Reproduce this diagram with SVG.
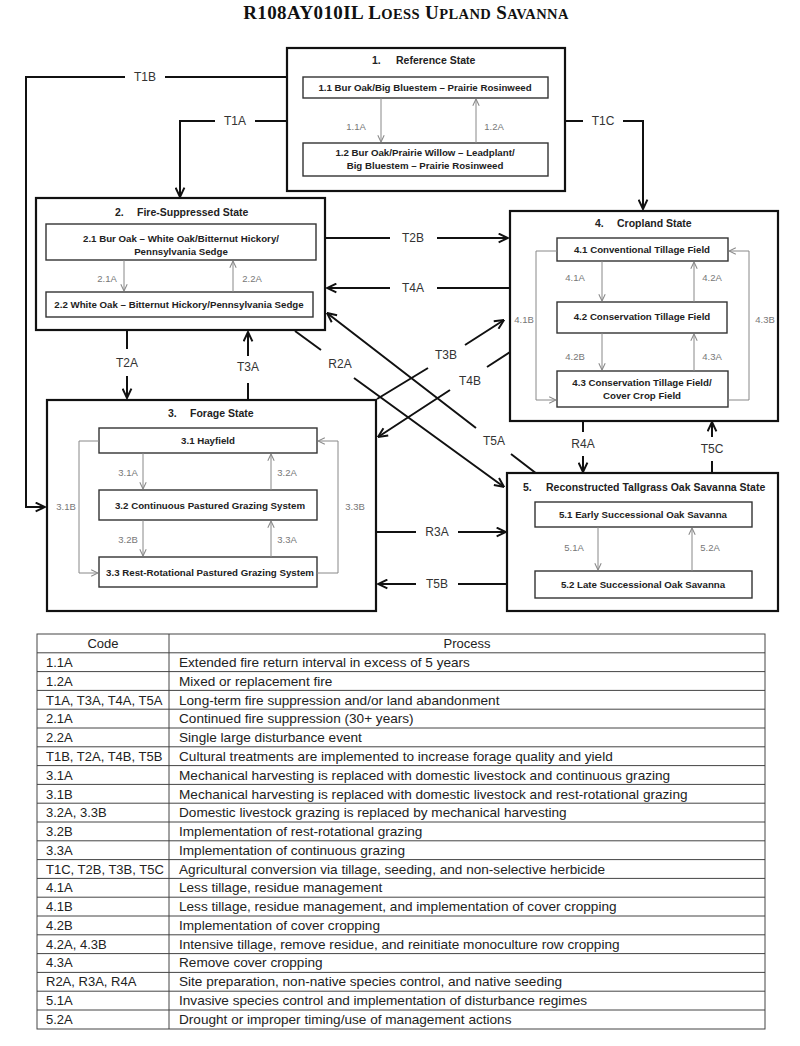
<svg xmlns="http://www.w3.org/2000/svg" width="800" height="1046" viewBox="0 0 800 1046">
<style>
.state{fill:#fff;stroke:#111;stroke-width:2.2}
.phase{fill:#fff;stroke:#333;stroke-width:1.4}
.st{font-family:"Liberation Sans",Arial,sans-serif;font-weight:bold;font-size:10.5px;fill:#222}
.ph{font-family:"Liberation Sans",Arial,sans-serif;font-weight:bold;font-size:9.7px;fill:#222;text-anchor:middle}
.con{fill:none;stroke:#111;stroke-width:2}
.in{fill:none;stroke:#888;stroke-width:1}
.cl{font-family:"Liberation Sans",Arial,sans-serif;font-size:12px;fill:#333;text-anchor:middle}
.il{font-family:"Liberation Sans",Arial,sans-serif;font-size:9.5px;fill:#777;text-anchor:middle}
.tb{fill:none;stroke:#444;stroke-width:1}
.tt{font-family:"Liberation Sans",Arial,sans-serif;font-size:13px;fill:#222}
.pr{font-size:13.6px}
</style>
<defs>
<marker id="ah" viewBox="0 0 10 10" refX="9.5" refY="5" markerWidth="11" markerHeight="11" markerUnits="userSpaceOnUse" orient="auto">
<path d="M1,1 L9.5,5 L1,9" fill="none" stroke="#111" stroke-width="1.8"/>
</marker>
<marker id="ai" viewBox="0 0 10 10" refX="9.5" refY="5" markerWidth="8" markerHeight="8" markerUnits="userSpaceOnUse" orient="auto">
<path d="M1,1 L9.5,5 L1,9" fill="none" stroke="#888" stroke-width="1.3"/>
</marker>
</defs>
<rect width="800" height="1046" fill="#fff"/>
<text x="406" y="19" text-anchor="middle" font-family="Liberation Serif,'Times New Roman',serif" font-weight="bold" font-size="19" letter-spacing="0.4" fill="#111">R108AY010IL L<tspan font-size="14.5">OESS</tspan> U<tspan font-size="14.5">PLAND</tspan> S<tspan font-size="14.5">AVANNA</tspan></text>

<g id="connectors">
<path class="con" d="M287,77 H165 M125,77 H26 V507 H45" marker-end="url(#ah)"/>
<path class="con" d="M287,121 H255 M215,121 H180 V197" marker-end="url(#ah)"/>
<path class="con" d="M565,121 H583 M623,121 H643 V209" marker-end="url(#ah)"/>
<path class="con" d="M325,238 H390 M437,238 H508" marker-end="url(#ah)"/>
<path class="con" d="M510,288 H437 M390,288 H327" marker-end="url(#ah)"/>
<path class="con" d="M127,331 V349 M127,376 V398" marker-end="url(#ah)"/>
<path class="con" d="M248,399 V383 M248,356 V332" marker-end="url(#ah)"/>
<path class="con" d="M295,331 L321,350 M354,378 L504,487" marker-end="url(#ah)"/>
<path class="con" d="M537,474 L511,454 M476,428 L327,313" marker-end="url(#ah)"/>
<path class="con" d="M377,399 L428,368 M465,345 L504,320" marker-end="url(#ah)"/>
<path class="con" d="M510,352 L487,367 M450,390 L378,437" marker-end="url(#ah)"/>
<path class="con" d="M583,422 V432 M583,456 V472" marker-end="url(#ah)"/>
<path class="con" d="M712,473 V461 M712,437 V422" marker-end="url(#ah)"/>
<path class="con" d="M377,532 H416 M458,532 H506" marker-end="url(#ah)"/>
<path class="con" d="M507,584 H458 M416,584 H378" marker-end="url(#ah)"/>
<text class="cl" x="145" y="81">T1B</text>
<text class="cl" x="235" y="125">T1A</text>
<text class="cl" x="603" y="125">T1C</text>
<text class="cl" x="413" y="242">T2B</text>
<text class="cl" x="413" y="292">T4A</text>
<text class="cl" x="127" y="367">T2A</text>
<text class="cl" x="248" y="371">T3A</text>
<text class="cl" x="340" y="368">R2A</text>
<text class="cl" x="494" y="445">T5A</text>
<text class="cl" x="446" y="359">T3B</text>
<text class="cl" x="470" y="385">T4B</text>
<text class="cl" x="583" y="448">R4A</text>
<text class="cl" x="712" y="453">T5C</text>
<text class="cl" x="437" y="536">R3A</text>
<text class="cl" x="437" y="588">T5B</text>
</g>

<g id="state1">
<rect class="state" x="287" y="48" width="278" height="143"/>
<text class="st" x="372" y="64">1.<tspan x="396">Reference State</tspan></text>
<rect class="phase" x="303" y="77" width="245" height="21"/>
<text class="ph" x="425" y="91">1.1 Bur Oak/Big Bluestem – Prairie Rosinweed</text>
<rect class="phase" x="303" y="143" width="245" height="33"/>
<text class="ph" x="425" y="156">1.2 Bur Oak/Prairie Willow – Leadplant/</text>
<text class="ph" x="425" y="169">Big Bluestem – Prairie Rosinweed</text>
<path class="in" d="M381,98 V142" marker-end="url(#ai)"/>
<path class="in" d="M476,143 V99" marker-end="url(#ai)"/>
<text class="il" x="356" y="130">1.1A</text>
<text class="il" x="494" y="130">1.2A</text>
</g>

<g id="state2">
<rect class="state" x="36" y="198" width="289" height="132"/>
<text class="st" x="115" y="216">2.<tspan x="137">Fire-Suppressed State</tspan></text>
<rect class="phase" x="46" y="224" width="270" height="36"/>
<text class="ph" x="181" y="242">2.1  Bur Oak – White Oak/Bitternut Hickory/</text>
<text class="ph" x="181" y="255">Pennsylvania Sedge</text>
<rect class="phase" x="46" y="292" width="267" height="25"/>
<text class="ph" x="179" y="308">2.2  White Oak – Bitternut Hickory/Pennsylvania Sedge</text>
<path class="in" d="M124,260 V291" marker-end="url(#ai)"/>
<path class="in" d="M233,292 V261" marker-end="url(#ai)"/>
<text class="il" x="107" y="282">2.1A</text>
<text class="il" x="252" y="282">2.2A</text>
</g>

<g id="state3">
<rect class="state" x="47" y="400" width="329" height="211"/>
<text class="st" x="168" y="417">3.<tspan x="190">Forage State</tspan></text>
<rect class="phase" x="99" y="428" width="218" height="25"/>
<text class="ph" x="208" y="444">3.1 Hayfield</text>
<rect class="phase" x="99" y="490" width="218" height="30"/>
<text class="ph" x="210" y="509">3.2 Continuous Pastured Grazing System</text>
<rect class="phase" x="99" y="557" width="218" height="30"/>
<text class="ph" x="210" y="576">3.3 Rest-Rotational Pastured Grazing System</text>
<path class="in" d="M143,453 V489" marker-end="url(#ai)"/>
<path class="in" d="M271,490 V454" marker-end="url(#ai)"/>
<path class="in" d="M143,520 V556" marker-end="url(#ai)"/>
<path class="in" d="M271,557 V521" marker-end="url(#ai)"/>
<path class="in" d="M99,441 H79 V573 H98" marker-end="url(#ai)"/>
<path class="in" d="M317,573 H338 V441 H318" marker-end="url(#ai)"/>
<text class="il" x="128" y="476">3.1A</text>
<text class="il" x="287" y="476">3.2A</text>
<text class="il" x="128" y="543">3.2B</text>
<text class="il" x="287" y="543">3.3A</text>
<text class="il" x="66" y="510">3.1B</text>
<text class="il" x="355" y="510">3.3B</text>
</g>

<g id="state4">
<rect class="state" x="510" y="211" width="268" height="210"/>
<text class="st" x="595" y="227">4.<tspan x="617">Cropland State</tspan></text>
<rect class="phase" x="557" y="238" width="171" height="23"/>
<text class="ph" x="642" y="253">4.1 Conventional Tillage Field</text>
<rect class="phase" x="557" y="302" width="170" height="31"/>
<text class="ph" x="642" y="320">4.2 Conservation Tillage Field</text>
<rect class="phase" x="557" y="371" width="171" height="36"/>
<text class="ph" x="642" y="386">4.3 Conservation Tillage Field/</text>
<text class="ph" x="642" y="399">Cover Crop Field</text>
<path class="in" d="M602,261 V301" marker-end="url(#ai)"/>
<path class="in" d="M694,302 V262" marker-end="url(#ai)"/>
<path class="in" d="M602,333 V370" marker-end="url(#ai)"/>
<path class="in" d="M694,371 V334" marker-end="url(#ai)"/>
<path class="in" d="M557,251 H536 V400 H556" marker-end="url(#ai)"/>
<path class="in" d="M728,400 H749 V251 H729" marker-end="url(#ai)"/>
<text class="il" x="575" y="281">4.1A</text>
<text class="il" x="712" y="281">4.2A</text>
<text class="il" x="575" y="360">4.2B</text>
<text class="il" x="712" y="360">4.3A</text>
<text class="il" x="524" y="323">4.1B</text>
<text class="il" x="765" y="323">4.3B</text>
</g>

<g id="state5">
<rect class="state" x="507" y="473" width="271" height="138"/>
<text class="st" x="523" y="491">5.<tspan x="546">Reconstructed Tallgrass  Oak Savanna State</tspan></text>
<rect class="phase" x="535" y="502" width="217" height="25"/>
<text class="ph" x="643" y="518">5.1 Early Successional Oak Savanna</text>
<rect class="phase" x="535" y="571" width="217" height="27"/>
<text class="ph" x="643" y="588">5.2 Late Successional Oak Savanna</text>
<path class="in" d="M598,527 V570" marker-end="url(#ai)"/>
<path class="in" d="M692,571 V528" marker-end="url(#ai)"/>
<text class="il" x="574" y="551">5.1A</text>
<text class="il" x="710" y="551">5.2A</text>
</g>

<g id="legend">
<rect class="tb" x="37" y="634" width="728" height="395"/>
<path class="tb" d="M169,634 V1029 M37,652.8 H765 M37,671.6 H765 M37,690.4 H765 M37,709.2 H765 M37,728 H765 M37,746.8 H765 M37,765.6 H765 M37,784.4 H765 M37,803.2 H765 M37,822 H765 M37,840.8 H765 M37,859.6 H765 M37,878.4 H765 M37,897.2 H765 M37,916 H765 M37,934.8 H765 M37,953.6 H765 M37,972.4 H765 M37,991.2 H765 M37,1010 H765"/>
<text class="tt" x="103" y="648" text-anchor="middle">Code</text>
<text class="tt" x="467" y="648" text-anchor="middle">Process</text>
<g class="tt">
<text x="46" y="667">1.1A</text><text class="pr" x="179" y="667">Extended fire return interval in excess of 5 years</text>
<text x="46" y="686">1.2A</text><text class="pr" x="179" y="686">Mixed or replacement fire</text>
<text x="46" y="704.5">T1A, T3A, T4A, T5A</text><text class="pr" x="179" y="704.5">Long-term fire suppression and/or land abandonment</text>
<text x="46" y="723">2.1A</text><text class="pr" x="179" y="723">Continued fire suppression (30+ years)</text>
<text x="46" y="742">2.2A</text><text class="pr" x="179" y="742">Single large disturbance event</text>
<text x="46" y="761">T1B, T2A, T4B, T5B</text><text class="pr" x="179" y="761">Cultural treatments are implemented to increase forage quality and yield</text>
<text x="46" y="780">3.1A</text><text class="pr" x="179" y="780">Mechanical harvesting is replaced with domestic livestock and continuous grazing</text>
<text x="46" y="798.5">3.1B</text><text class="pr" x="179" y="798.5">Mechanical harvesting is replaced with domestic livestock and rest-rotational grazing</text>
<text x="46" y="817">3.2A, 3.3B</text><text class="pr" x="179" y="817">Domestic livestock grazing is replaced by mechanical harvesting</text>
<text x="46" y="836">3.2B</text><text class="pr" x="179" y="836">Implementation of rest-rotational grazing</text>
<text x="46" y="855">3.3A</text><text class="pr" x="179" y="855">Implementation of continuous grazing</text>
<text x="46" y="873.5">T1C, T2B, T3B, T5C</text><text class="pr" x="179" y="873.5">Agricultural conversion via tillage, seeding, and non-selective herbicide</text>
<text x="46" y="892">4.1A</text><text class="pr" x="179" y="892">Less tillage, residue management</text>
<text x="46" y="911">4.1B</text><text class="pr" x="179" y="911">Less tillage, residue management, and implementation of cover cropping</text>
<text x="46" y="930">4.2B</text><text class="pr" x="179" y="930">Implementation of cover cropping</text>
<text x="46" y="948.5">4.2A, 4.3B</text><text class="pr" x="179" y="948.5">Intensive tillage, remove residue, and reinitiate monoculture row cropping</text>
<text x="46" y="967">4.3A</text><text class="pr" x="179" y="967">Remove cover cropping</text>
<text x="46" y="986">R2A, R3A, R4A</text><text class="pr" x="179" y="986">Site preparation, non-native species control, and native seeding</text>
<text x="46" y="1005">5.1A</text><text class="pr" x="179" y="1005">Invasive species control and implementation of disturbance regimes</text>
<text x="46" y="1023.5">5.2A</text><text class="pr" x="179" y="1023.5">Drought or improper timing/use of management actions</text>
</g>
</g>
</svg>
